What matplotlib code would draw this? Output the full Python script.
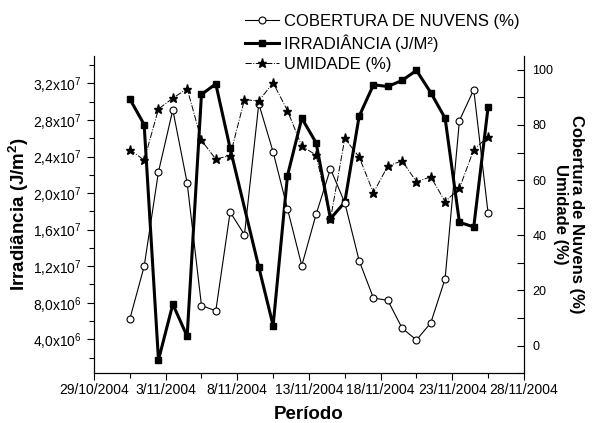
import numpy as np
import pandas as pd
import matplotlib
matplotlib.use('Agg')
import matplotlib.pyplot as plt
import matplotlib.ticker as ticker
import matplotlib.dates as mdates

plt.rcParams['font.family'] = ['Liberation Sans', 'DejaVu Sans']
plt.rcParams['mathtext.default'] = 'regular'

# one reading per day, taken around midday
dias = pd.date_range('2004-10-31 12:00', '2004-11-25 12:00', freq='D')

cobertura = [9.6, 28.7, 63.0, 85.5, 59.0, 14.5, 12.6, 48.4, 40.2, 87.7, 70.2, 49.6, 29.0,
             47.6, 64.1, 51.8, 30.8, 17.2, 16.4, 6.3, 2.0, 8.2, 24.2, 81.6, 92.8, 48.0]
irradiancia = [3.03e7, 2.75e7, 1.73e6, 7.84e6, 4.33e6, 3.08e7, 3.195e7, 2.49e7, np.nan, 1.19e7,
               5.5e6, 2.19e7, 2.82e7, 2.55e7, 1.72e7, 1.90e7, 2.84e7, 3.185e7, 3.167e7, 3.233e7,
               3.343e7, 3.10e7, 2.82e7, 1.68e7, 1.63e7, 2.94e7]
umidade = [71.1, 67.2, 85.8, 89.7, 93.2, 74.4, 67.6, 68.9, 89.2, 88.7, 95.3, 85.2, 72.3,
           69.1, 45.8, 75.1, 68.4, 55.4, 65.1, 67.0, 59.4, 61.2, 52.2, 57.0, 71.1, 75.7]

irr = pd.Series(irradiancia, index=dias).dropna()


def fmtCientifico(v, pos):
    if v <= 0:
        return ''
    e = int(np.floor(np.log10(v)))
    m = v / 10**e
    return ('%.1f' % m).replace('.', ',') + 'x10$^{%d}$' % e


def fmtData(v, pos):
    d = mdates.num2date(v)
    return '%d/%d/%d' % (d.day, d.month, d.year)


fig = plt.figure(figsize=(5.93, 4.23), dpi=100)
ax = fig.add_axes([0.1585, 0.118, 0.725, 0.7495])

l1, = ax.plot(irr.index, irr.values, color='black', lw=2.2, marker='s', ms=4.5,
              label='IRRADIÂNCIA (J/M²)')
ax.set_ylim(3e5, 3.5e7)
ax.set_xlim(pd.Timestamp('2004-10-29'), pd.Timestamp('2004-11-28'))
ax.yaxis.set_major_locator(ticker.MultipleLocator(4e6))
ax.yaxis.set_minor_locator(ticker.MultipleLocator(2e6))
ax.yaxis.set_major_formatter(ticker.FuncFormatter(fmtCientifico))
ax.xaxis.set_major_locator(ticker.MultipleLocator(5))
ax.xaxis.set_minor_locator(ticker.MultipleLocator(2.5))
ax.xaxis.set_major_formatter(ticker.FuncFormatter(fmtData))
ax.tick_params(which='major', length=5, width=0.8, labelsize=10, direction='out')
ax.tick_params(axis='x', which='major', pad=2)
ax.tick_params(which='minor', length=3.5, width=0.8, direction='out')
ax.spines['top'].set_visible(False)
ax.set_ylabel('Irradiância (J/m$^2$)', fontsize=13.5, fontweight='bold', labelpad=2)

# x label sits right at the bottom edge, as in the original
fig.text(0.52, 1 - 419 / 423, 'Período', fontsize=13.5, fontweight='bold',
         ha='center', va='baseline')

ax2 = ax.twinx()
l2, = ax2.plot(dias, cobertura, color='black', lw=0.8, marker='o', ms=5, mfc='white',
               mec='black', mew=0.8, label='COBERTURA DE NUVENS (%)')
l3, = ax2.plot(dias, umidade, color='black', lw=0.7, ls='-.', marker='*', ms=6.5,
               label='UMIDADE (%)')
ax2.set_ylim(-10, 105)
ax2.yaxis.set_major_locator(ticker.MultipleLocator(20))
ax2.yaxis.set_minor_locator(ticker.MultipleLocator(10))
ax2.tick_params(which='major', length=5, width=0.8, labelsize=9, direction='in', pad=6)
ax2.tick_params(which='minor', length=5, width=0.8, direction='in')
ax2.spines['top'].set_visible(False)
ax2.set_ylabel('Cobertura de Nuvens (%)\nUmidade (%)', fontsize=12, fontweight='bold',
               rotation=270, labelpad=22, linespacing=1.1)

fig.legend(handles=[l2, l1, l3], loc='upper left', bbox_to_anchor=(0.397, 0.99),
           frameon=False, fontsize=12, handlelength=2.0, handletextpad=0.3,
           labelspacing=0.3, borderaxespad=0.2)

fig.savefig('out.png', dpi=100)
